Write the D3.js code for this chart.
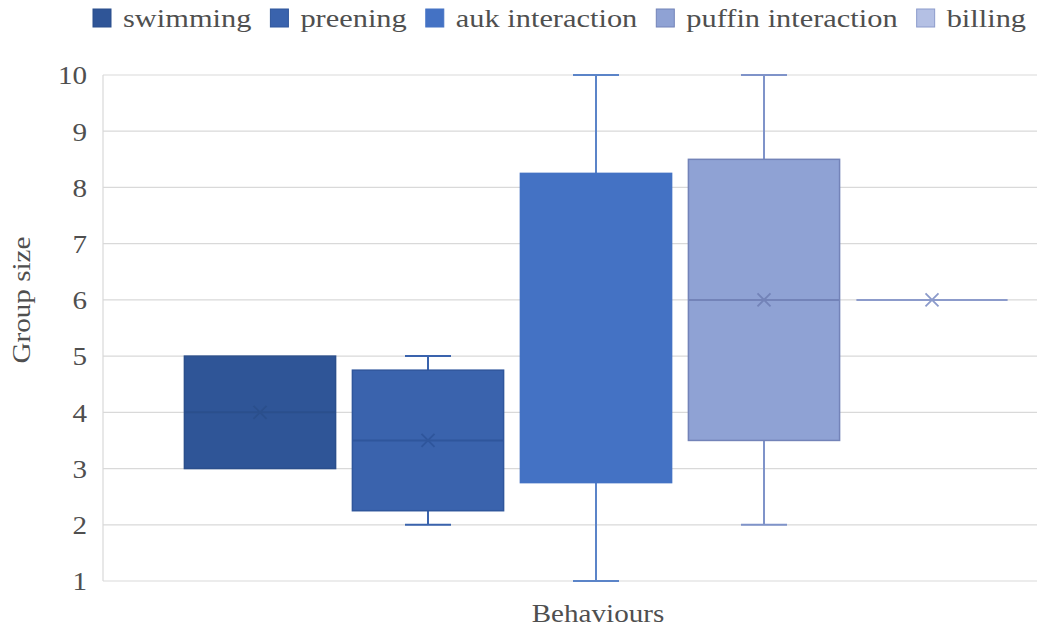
<!DOCTYPE html>
<html>
<head>
<meta charset="utf-8">
<script src="https://cdn.jsdelivr.net/npm/d3@7/dist/d3.min.js"></script>
<style>
  html, body { margin: 0; padding: 0; background: #fff; }
  svg { display: block; }
  text { font-family: "Liberation Serif", "Times New Roman", serif; fill: #4f4f4f; }
</style>
</head>
<body>
<svg id="chart" width="1037" height="630"></svg>
<script>
// Behaviour categories (one box per behaviour)
const behaviours = ["swimming", "preening", "auk interaction", "puffin interaction", "billing"];
// Five-number summaries of group size plus mean
const minValues    = [3, 2, 1, 2, 6];
const q1Values     = [3, 2.25, 2.75, 3.5, 6];
const medianValues = [4, 3.5, 5.5, 6, 6];
const q3Values     = [5, 4.75, 8.25, 8.5, 6];
const maxValues    = [5, 5, 10, 10, 6];
const meanValues   = [4, 3.5, 5.5, 6, 6];
// Axis ticks
const yTicks = [1, 2, 3, 4, 5, 6, 7, 8, 9, 10];

const fills   = ["#2F5597", "#3A63AD", "#4472C4", "#8FA2D4", "#B4C0E4"];
const strokes = ["#2B4F8C", "#2F569C", "#4472C4", "#7383B8", "#8C9BCB"];
const whiskerColors = ["#2F5597", "#3A63AD", "#5B84C8", "#7F93C9", "#8C9BCB"];

const FONT = 26, SX = 1.12;   // serif text, slightly widened
const LEG_SX = 1.17;
const svg = d3.select("#chart");

const plotLeft = 103, plotRight = 1089, plotTop = 75, plotBottom = 581;
const y = d3.scaleLinear().domain([1, 10]).range([plotBottom, plotTop]);
const x = d3.scaleBand().domain(behaviours).range([176, 1016]).paddingInner(0).paddingOuter(0);
const boxW = x.bandwidth() * 0.9;
const capW = 46;

// gridlines
svg.append("g").selectAll("line").data(yTicks).join("line")
  .attr("x1", plotLeft).attr("x2", plotRight)
  .attr("y1", d => y(d)).attr("y2", d => y(d))
  .attr("stroke", "#D9D9D9").attr("stroke-width", 1.2);
svg.append("line").attr("x1", plotLeft).attr("x2", plotLeft).attr("y1", plotTop).attr("y2", plotBottom)
  .attr("stroke", "#D9D9D9").attr("stroke-width", 1.2);

// y axis labels
const yAxis = d3.axisLeft(y).tickValues(yTicks).tickSize(0).tickPadding(0).tickFormat(d3.format("d"));
const ya = svg.append("g").attr("transform", `translate(${plotLeft - 16},0)`).call(yAxis);
ya.select(".domain").remove();
ya.selectAll("text")
  .attr("x", 0).attr("dy", "0.34em")
  .attr("transform", `scale(${SX},1)`)
  .style("font-size", FONT + "px").style("font-family", "'Liberation Serif', serif").attr("fill", "#4f4f4f");

// boxes
const data = behaviours.map((b, i) => ({
  b, i, min: minValues[i], q1: q1Values[i], med: medianValues[i], q3: q3Values[i], max: maxValues[i], mean: meanValues[i]
}));

const g = svg.append("g");
data.forEach(d => {
  const cx = x(d.b) + x.bandwidth() / 2;
  const x0 = cx - boxW / 2;
  const wc = whiskerColors[d.i];
  // whiskers
  if (d.max > d.q3) {
    g.append("line").attr("x1", cx).attr("x2", cx).attr("y1", y(d.max)).attr("y2", y(d.q3)).attr("stroke", wc).attr("stroke-width", 2);
    g.append("line").attr("x1", cx - capW / 2).attr("x2", cx + capW / 2).attr("y1", y(d.max)).attr("y2", y(d.max)).attr("stroke", wc).attr("stroke-width", 2);
  }
  if (d.min < d.q1) {
    g.append("line").attr("x1", cx).attr("x2", cx).attr("y1", y(d.q1)).attr("y2", y(d.min)).attr("stroke", wc).attr("stroke-width", 2);
    g.append("line").attr("x1", cx - capW / 2).attr("x2", cx + capW / 2).attr("y1", y(d.min)).attr("y2", y(d.min)).attr("stroke", wc).attr("stroke-width", 2);
  }
  // box
  if (d.q3 > d.q1) {
    g.append("rect").attr("x", x0).attr("width", boxW)
      .attr("y", y(d.q3)).attr("height", y(d.q1) - y(d.q3))
      .attr("fill", fills[d.i]).attr("stroke", strokes[d.i]).attr("stroke-width", 1.5);
  }
  // median line and mean marker (drawn in the box outline colour)
  if (strokes[d.i] !== fills[d.i] || d.q3 === d.q1) {
    g.append("line").attr("x1", x0).attr("x2", x0 + boxW)
      .attr("y1", y(d.med)).attr("y2", y(d.med))
      .attr("stroke", strokes[d.i]).attr("stroke-width", 2);
    const my = y(d.mean), s = 6.5;
    g.append("path")
      .attr("d", `M${cx - s},${my - s}L${cx + s},${my + s}M${cx - s},${my + s}L${cx + s},${my - s}`)
      .attr("stroke", strokes[d.i]).attr("stroke-width", 1.8).attr("fill", "none");
  }
});

// axis titles
svg.append("text").attr("transform", `translate(598,622) scale(${SX},1)`)
  .attr("text-anchor", "middle").style("font-size", FONT + "px").text("Behaviours");
svg.append("text").attr("transform", `translate(30,300) rotate(-90) scale(${SX},1)`)
  .attr("text-anchor", "middle").style("font-size", FONT + "px").text("Group size");

// legend
const legend = svg.append("g");
let lx = 93;
behaviours.forEach((b, i) => {
  legend.append("rect").attr("x", lx).attr("y", 9).attr("width", 18).attr("height", 18)
    .attr("fill", fills[i]).attr("stroke", strokes[i]).attr("stroke-width", 1);
  const t = legend.append("text").attr("transform", `translate(${lx + 30},27) scale(${LEG_SX},1)`)
    .style("font-size", FONT + "px").text(b);
  const w = t.node().getComputedTextLength() * LEG_SX;
  lx += 30 + w + 19;
});
</script>
</body>
</html>
